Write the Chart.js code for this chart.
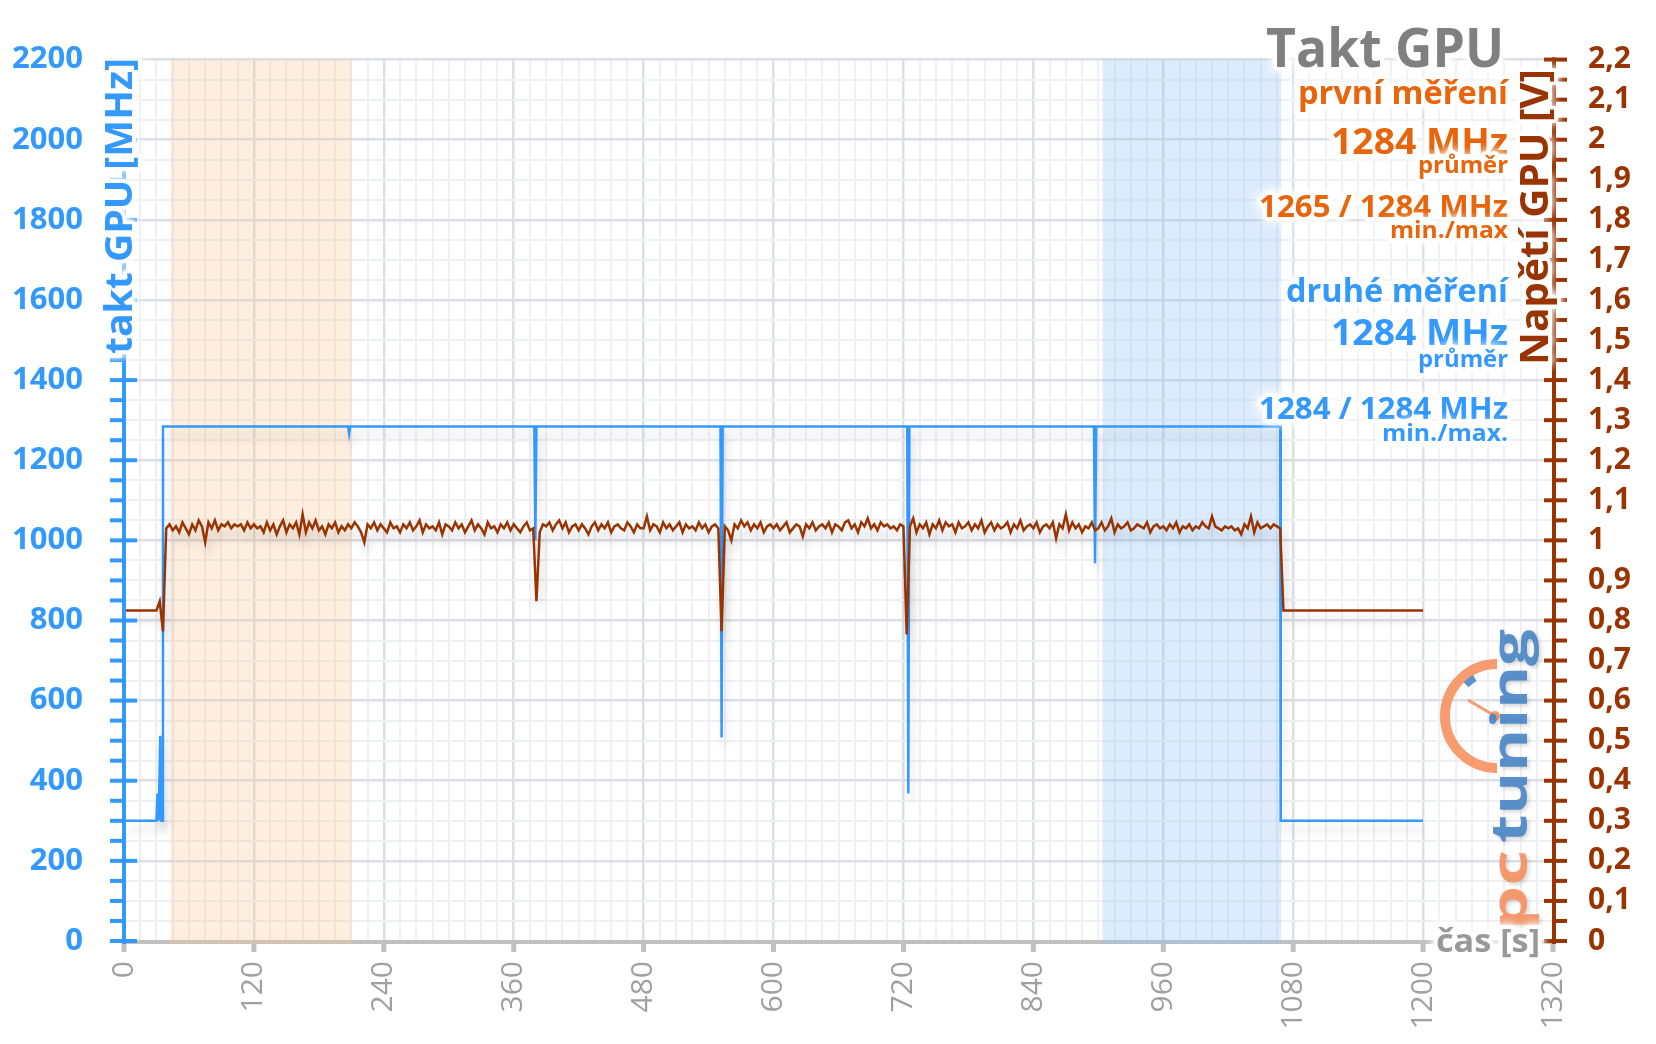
<!DOCTYPE html>
<html>
<head>
<meta charset="utf-8">
<script src="https://cdn.jsdelivr.net/npm/chart.js@4.4.0/dist/chart.umd.min.js"></script>
<style>
  html, body { margin: 0; padding: 0; background: #fff; }
  #wrap { width: 1656px; height: 1044px; }
</style>
</head>
<body>
<div id="wrap"><canvas id="myChart" width="1656" height="1044"></canvas></div>
<script>
// Data

// GPU clock [MHz], step curve
const clockTimes = [0, 28, 30, 31, 32, 33.5, 34.5, 35.5, 36, 207, 208, 209, 379, 380, 381, 551, 552, 553, 723.5, 724.5, 725.5, 896, 897, 898, 1068, 1068.5, 1200];
const clockValues = [300, 300, 300, 368, 300, 512, 300, 300, 1284, 1284, 1266, 1284, 1284, 1000, 1284, 1284, 508, 1284, 1284, 368, 1284, 1284, 943, 1284, 1284, 300, 300];

// GPU voltage [V], one sample every 3 s from 0 s
const voltStep = 3;
const voltValues = [
  0.825, 0.825, 0.825, 0.825, 0.825, 0.825, 0.825, 0.825, 0.825, 0.825,
  0.825, 0.848, 0.773, 1.03, 1.04, 1.025, 1.035, 1.02, 1.045, 1.03,
  1.015, 1.04, 1.025, 1.05, 1.035, 0.995, 1.045, 1.03, 1.05, 1.025,
  1.04, 1.035, 1.045, 1.03, 1.04, 1.035, 1.04, 1.025, 1.045, 1.03,
  1.04, 1.03, 1.035, 1.02, 1.045, 1.025, 1.04, 1.015, 1.035, 1.05,
  1.02, 1.04, 1.03, 1.045, 1.015, 1.065, 1.02, 1.045, 1.03, 1.05,
  1.025, 1.035, 1.015, 1.04, 1.03, 1.045, 1.02, 1.035, 1.025, 1.04,
  1.03, 1.045, 1.035, 1.02, 0.995, 1.04, 1.03, 1.045, 1.025, 1.04,
  1.03, 1.02, 1.045, 1.03, 1.035, 1.02, 1.04, 1.03, 1.045, 1.025,
  1.035, 1.05, 1.02, 1.04, 1.03, 1.035, 1.025, 1.045, 1.015, 1.04,
  1.035, 1.025, 1.045, 1.03, 1.04, 1.02, 1.035, 1.05, 1.025, 1.04,
  1.03, 1.015, 1.045, 1.03, 1.035, 1.02, 1.04, 1.03, 1.045, 1.025,
  1.04, 1.03, 1.02, 1.035, 1.045, 1.025, 1.03, 0.848, 1.02, 1.04,
  1.035, 1.045, 1.025, 1.04, 1.05, 1.03, 1.045, 1.02, 1.035, 1.04,
  1.025, 1.04, 1.03, 1.015, 1.035, 1.045, 1.025, 1.04, 1.03, 1.045,
  1.02, 1.035, 1.04, 1.03, 1.025, 1.045, 1.035, 1.02, 1.04, 1.03,
  1.03, 1.06, 1.025, 1.04, 1.035, 1.02, 1.045, 1.03, 1.04, 1.025,
  1.035, 1.045, 1.02, 1.04, 1.03, 1.035, 1.025, 1.045, 1.03, 1.04,
  1.02, 1.035, 1.04, 1.03, 0.773, 1.035, 1.025, 1.0, 1.04, 1.03,
  1.05, 1.035, 1.045, 1.025, 1.04, 1.03, 1.045, 1.02, 1.035, 1.04,
  1.03, 1.04, 1.025, 1.035, 1.045, 1.02, 1.03, 1.04, 1.035, 1.01,
  1.04, 1.03, 1.045, 1.025, 1.035, 1.04, 1.03, 1.045, 1.02, 1.04,
  1.035, 1.025, 1.045, 1.05, 1.03, 1.04, 1.02, 1.045, 1.035, 1.055,
  1.03, 1.04, 1.025, 1.045, 1.035, 1.04, 1.03, 1.035, 1.025, 1.04,
  1.035, 0.765, 1.035, 1.055, 1.02, 1.04, 1.03, 1.045, 1.015, 1.04,
  1.03, 1.05, 1.025, 1.045, 1.035, 1.04, 1.02, 1.045, 1.03, 1.035,
  1.045, 1.025, 1.04, 1.03, 1.05, 1.02, 1.035, 1.045, 1.025, 1.04,
  1.03, 1.035, 1.045, 1.02, 1.04, 1.03, 1.05, 1.025, 1.035, 1.04,
  1.03, 1.045, 1.02, 1.035, 1.04, 1.03, 1.045, 1.005, 1.04, 1.03,
  1.065, 1.025, 1.045, 1.03, 1.04, 1.02, 1.035, 1.03, 1.045, 1.025,
  1.03, 1.045, 1.025, 1.035, 1.055, 1.02, 1.04, 1.03, 1.035, 1.045,
  1.025, 1.03, 1.04, 1.035, 1.03, 1.045, 1.02, 1.035, 1.04, 1.03,
  1.035, 1.025, 1.04, 1.03, 1.045, 1.02, 1.035, 1.03, 1.04, 1.025,
  1.035, 1.03, 1.045, 1.035, 1.03, 1.06, 1.035, 1.03, 1.025, 1.035,
  1.03, 1.035, 1.025, 1.03, 1.015, 1.04, 1.03, 1.06, 1.02, 1.045,
  1.03, 1.035, 1.04, 1.03, 1.04, 1.035, 1.03, 0.825, 0.825, 0.825,
  0.825, 0.825, 0.825, 0.825, 0.825, 0.825, 0.825, 0.825, 0.825, 0.825,
  0.825, 0.825, 0.825, 0.825, 0.825, 0.825, 0.825, 0.825, 0.825, 0.825,
  0.825, 0.825, 0.825, 0.825, 0.825, 0.825, 0.825, 0.825, 0.825, 0.825,
  0.825, 0.825, 0.825, 0.825, 0.825, 0.825, 0.825, 0.825, 0.825, 0.825,
  0.825
];

// highlighted time ranges [s]
const shadeRanges = [[43, 210.5], [904, 1069]];

// axis ranges / tick steps
const timeMax = 1320, timeMajor = 120, timeMinor = 15;
const clockMax = 2200, clockMajor = 200, clockMinor = 50;
const voltMax = 2.2, voltMinor = 0.05;

// Styles

const blue = '#3399ff';
const brown = '#993300';
const orange = '#e8650c';
const gray = '#999999';
const gridMajor = '#dcdfe6';
const gridMinor = '#eff0f4';
const shadeColors = ['rgba(248, 198, 152, 0.3)', 'rgba(142, 192, 245, 0.3)'];

const notes = [
  { text: 'Takt GPU', color: '#808080', size: 54, y: 67, width: 238, right: 1504 },
  { text: 'první měření', color: orange, size: 32, y: 104, width: 210 },
  { text: '1284 MHz', color: orange, size: 36, y: 154, width: 177 },
  { text: 'průměr', color: orange, size: 24, y: 173, width: 90 },
  { text: '1265 / 1284 MHz', color: orange, size: 31, y: 217, width: 249 },
  { text: 'min./max', color: orange, size: 24, y: 238, width: 118 },
  { text: 'druhé měření', color: blue, size: 32, y: 302, width: 222 },
  { text: '1284 MHz', color: blue, size: 36, y: 345, width: 177 },
  { text: 'průměr', color: blue, size: 24, y: 367, width: 90 },
  { text: '1284 / 1284 MHz', color: blue, size: 31, y: 419, width: 249 },
  { text: 'min./max.', color: blue, size: 24, y: 441, width: 126 }
];

Chart.defaults.font.family = "'Open Sans', 'DejaVu Sans', sans-serif";

const clockPoints = clockTimes.map((t, i) => ({ x: t, y: clockValues[i] }));
const voltPoints = voltValues.map((v, i) => ({ x: i * voltStep, y: v }));

// text with a white glow round it
const haloText = (ctx, text, x, y, opt) => {
  ctx.save();
  ctx.font = `${opt.weight || 'bold'} ${opt.size}px 'Open Sans', sans-serif`;
  ctx.textAlign = opt.align || 'right';
  ctx.textBaseline = 'alphabetic';
  ctx.translate(x, y);
  if (opt.rotate) ctx.rotate(opt.rotate);
  if (opt.width) {
    const w = ctx.measureText(text).width;
    ctx.scale(opt.width / w, 1);
  }
  ctx.lineJoin = 'round';
  ctx.shadowColor = '#ffffff';
  ctx.shadowBlur = 10;
  ctx.strokeStyle = 'rgba(255, 255, 255, 0.95)';
  ctx.lineWidth = 7;
  ctx.strokeText(text, 0, 0);
  ctx.strokeText(text, 0, 0);
  ctx.shadowBlur = 0;
  ctx.fillStyle = opt.color;
  ctx.fillText(text, 0, 0);
  ctx.restore();
};

const lineShadow = {
  id: 'lineShadow',
  beforeDatasetDraw(chart) {
    const ctx = chart.ctx;
    ctx.save();
    ctx.shadowColor = 'rgba(0, 0, 0, 0.16)';
    ctx.shadowBlur = 10;
    ctx.shadowOffsetX = 3;
    ctx.shadowOffsetY = 9;
  },
  afterDatasetDraw(chart) {
    chart.ctx.restore();
  }
};

const drawLogo = (ctx) => {
  ctx.save();
  // gauge
  const cx = 1497, cy = 716;
  ctx.globalAlpha = 0.9;
  ctx.strokeStyle = '#f5915f';
  ctx.lineWidth = 10;
  ctx.beginPath();
  ctx.arc(cx, cy, 52, -Math.PI / 2, Math.PI / 2, true);
  ctx.stroke();
  ctx.strokeStyle = '#4a86c6';
  ctx.lineWidth = 7;
  ctx.beginPath();
  ctx.arc(cx, cy, 44, -2.35, -2.1);
  ctx.stroke();
  ctx.strokeStyle = '#f5915f';
  ctx.lineWidth = 3;
  ctx.beginPath();
  ctx.moveTo(cx - 2, cy);
  ctx.lineTo(1468, 700);
  ctx.stroke();
  ctx.fillStyle = '#f5915f';
  ctx.beginPath();
  ctx.arc(cx - 2, cy, 5, 0, Math.PI * 2);
  ctx.fill();
  // lettering
  ctx.translate(1527, 930);
  ctx.rotate(-Math.PI / 2);
  ctx.font = "bold 50px 'Open Sans', sans-serif";
  ctx.textAlign = 'left';
  ctx.shadowColor = 'rgba(0, 0, 0, 0.2)';
  ctx.shadowBlur = 4;
  ctx.shadowOffsetX = 2;
  ctx.shadowOffsetY = 2;
  let w = ctx.measureText('pc').width;
  ctx.save();
  ctx.scale(80 / w, 1);
  ctx.fillStyle = '#f5915f';
  ctx.fillText('pc', 0, 0);
  ctx.restore();
  w = ctx.measureText('tuning').width;
  ctx.translate(87, 0);
  ctx.scale(214 / w, 1);
  ctx.fillStyle = '#4a86c6';
  ctx.fillText('tuning', 0, 0);
  ctx.restore();
};

const chartDecor = {
  id: 'chartDecor',
  beforeDatasetsDraw(chart) {
    const ctx = chart.ctx;
    const area = chart.chartArea;
    const x = chart.scales.x;
    ctx.save();
    // time axis
    ctx.strokeStyle = '#c0c0c0';
    ctx.lineWidth = 4;
    ctx.beginPath();
    ctx.moveTo(area.left, area.bottom + 1);
    ctx.lineTo(area.right, area.bottom + 1);
    ctx.stroke();
    ctx.lineWidth = 5;
    x.ticks.forEach(t => {
      if (t.value % timeMajor !== 0) return;
      const px = x.getPixelForValue(t.value);
      ctx.beginPath();
      ctx.moveTo(px, area.bottom);
      ctx.lineTo(px, area.bottom + 11);
      ctx.stroke();
    });
    // highlighted ranges
    shadeRanges.forEach((r, i) => {
      const x0 = x.getPixelForValue(r[0]);
      const x1 = x.getPixelForValue(r[1]);
      ctx.fillStyle = shadeColors[i];
      ctx.fillRect(x0, area.top, x1 - x0, area.bottom - area.top + 3);
    });
    ctx.restore();
  },
  afterDraw(chart) {
    const ctx = chart.ctx;
    const area = chart.chartArea;
    const y = chart.scales.y;
    const y1 = chart.scales.y1;
    ctx.save();
    // left axis
    ctx.strokeStyle = blue;
    ctx.lineWidth = 4;
    ctx.beginPath();
    ctx.moveTo(area.left, area.top - 2);
    ctx.lineTo(area.left, area.bottom + 3);
    ctx.stroke();
    y.ticks.forEach(t => {
      const py = y.getPixelForValue(t.value);
      const major = t.value % clockMajor === 0;
      ctx.beginPath();
      ctx.moveTo(area.left - 14, py);
      ctx.lineTo(area.left + (major ? 13 : 0), py);
      ctx.stroke();
    });
    // right axis
    ctx.strokeStyle = brown;
    ctx.beginPath();
    ctx.moveTo(area.right + 1, area.top - 2);
    ctx.lineTo(area.right + 1, area.bottom + 3);
    ctx.stroke();
    y1.ticks.forEach(t => {
      const py = y1.getPixelForValue(t.value);
      const major = Math.round(t.value * 100) % 10 === 0;
      ctx.beginPath();
      ctx.moveTo(area.right + 1 - (major ? 10 : 0), py);
      ctx.lineTo(area.right + 14, py);
      ctx.stroke();
    });
    ctx.restore();

    drawLogo(ctx);

    // axis titles
    haloText(ctx, 'takt GPU [MHz]', 132, 354, { color: blue, size: 38, align: 'left', rotate: -Math.PI / 2, width: 296 });
    haloText(ctx, 'Napětí GPU [V]', 1548, 365, { color: brown, size: 40, align: 'left', rotate: -Math.PI / 2, width: 296 });
    haloText(ctx, 'čas [s]', 1540, 952, { color: gray, size: 33, width: 104 });

    // title and summary notes
    notes.forEach(n => haloText(ctx, n.text, n.right || 1508, n.y, { color: n.color, size: n.size, width: n.width }));
  }
};

const ctx = document.getElementById('myChart').getContext('2d');
const myChart = new Chart(ctx, {
  type: 'line',
  data: {
    datasets: [{
      label: 'Napětí GPU',
      data: voltPoints,
      yAxisID: 'y1',
      borderColor: brown,
      borderWidth: 2.5,
      pointRadius: 0,
      tension: 0,
    }, {
      label: 'Takt GPU',
      data: clockPoints,
      yAxisID: 'y',
      borderColor: blue,
      borderWidth: 2.5,
      pointRadius: 0,
      tension: 0,
    }],
  },
  options: {
    responsive: false,
    animation: false,
    devicePixelRatio: 1,
    layout: { padding: { top: 56, left: 0, right: 0, bottom: 0 } },
    plugins: { legend: { display: false }, tooltip: { enabled: false }, title: { display: false } },
    scales: {
      x: {
        type: 'linear',
        position: 'bottom',
        min: 0,
        max: timeMax,
        afterFit: (scale) => { scale.height = 103; },
        border: { display: false },
        grid: {
          drawTicks: false,
          color: (c) => c.tick && c.tick.value % timeMajor === 0 ? gridMajor : gridMinor,
          lineWidth: (c) => c.tick && c.tick.value % timeMajor === 0 ? 2.5 : 2,
        },
        ticks: {
          stepSize: timeMinor,
          autoSkip: false,
          minRotation: 90,
          maxRotation: 90,
          padding: 20,
          color: '#a0a0a0',
          font: { size: 30, weight: 'normal' },
          callback: (v) => v % timeMajor === 0 ? v : '',
        },
      },
      y: {
        type: 'linear',
        position: 'left',
        min: 0,
        max: clockMax,
        afterFit: (scale) => { scale.width = 124; },
        border: { display: false },
        grid: {
          drawTicks: false,
          color: (c) => c.tick && c.tick.value % clockMajor === 0 ? gridMajor : gridMinor,
          lineWidth: (c) => c.tick && c.tick.value % clockMajor === 0 ? 2.5 : 2,
        },
        ticks: {
          stepSize: clockMinor,
          autoSkip: false,
          padding: 41,
          color: blue,
          font: { size: 31, weight: 'bold' },
          callback: (v) => v % clockMajor === 0 ? v : '',
        },
      },
      y1: {
        type: 'linear',
        position: 'right',
        min: 0,
        max: voltMax,
        afterFit: (scale) => { scale.width = 103; },
        border: { display: false },
        grid: { drawOnChartArea: false, drawTicks: false },
        ticks: {
          stepSize: voltMinor,
          autoSkip: false,
          padding: 35,
          color: brown,
          font: { size: 30, weight: 'bold' },
          callback: (v) => Math.round(v * 100) % 10 === 0 ? String(Math.round(v * 10) / 10).replace('.', ',') : '',
        },
      },
    },
  },
  plugins: [lineShadow, chartDecor],
});
</script>
</body>
</html>
